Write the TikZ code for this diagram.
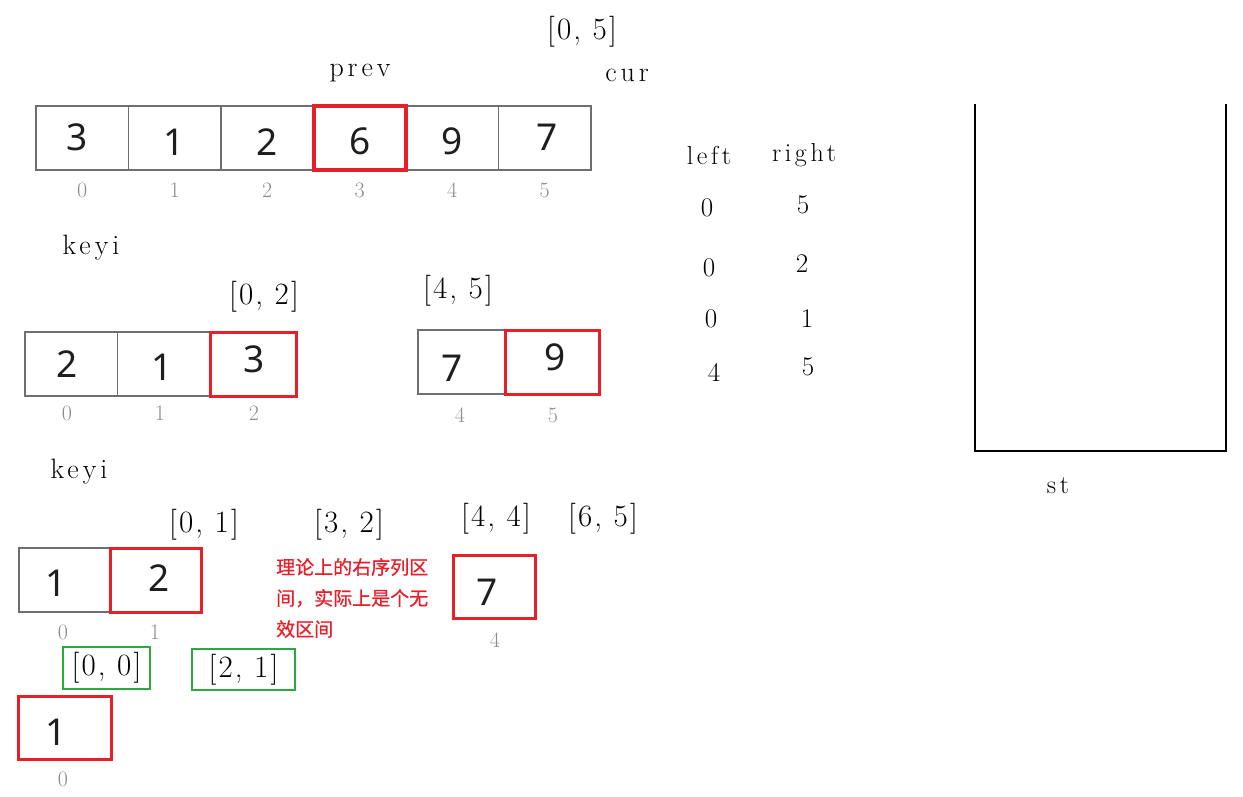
\documentclass[tikz,border=0pt]{standalone}
\usepackage{fontspec}
\newfontfamily\cjk{Noto Sans CJK SC}[FakeBold=0.8]
\newfontfamily\numf{Noto Sans}
\newfontfamily\wideroman{Latin Modern Roman}[LetterSpace=14]
\newfontfamily\widerng{Latin Modern Roman}[LetterSpace=7]
\definecolor{cellgray}{RGB}{110,110,110}
\definecolor{boxred}{RGB}{232,30,40}
\definecolor{boxgreen}{RGB}{40,170,60}
\definecolor{numcol}{RGB}{30,30,30}
\definecolor{idxgray}{RGB}{140,140,140}
\tikzset{
  cell/.style={draw=cellgray, line width=1.3pt, minimum width=92.5pt, minimum height=64pt, inner sep=0pt},
  redcell/.style={cell, draw=boxred, line width=3pt},
  dig/.style={font=\numf\fontsize{37}{37}\selectfont, text=numcol, inner sep=0pt},
  idx/.style={font=\fontsize{22}{22}\selectfont, text=idxgray, inner sep=0pt},
  rng/.style={font=\widerng\fontsize{31}{31}\selectfont, inner sep=0pt},
  ttl/.style={font=\wideroman\fontsize{28}{28}\selectfont, inner sep=0pt},
  ttlsmall/.style={font=\wideroman\fontsize{26}{26}\selectfont, inner sep=0pt},
  tnum/.style={font=\fontsize{27}{27}\selectfont, inner sep=0pt},
  greenbox/.style={draw=boxgreen, line width=2.5pt, inner sep=0pt},
  stackline/.style={line width=2.5pt, black}
}
\begin{document}
\begin{tikzpicture}[x=1pt,y=-1pt]
\useasboundingbox[fill=white] (0,0) rectangle (1243,797);
% ---------- top array ----------
\node[rng] (r05) at (582,32) {[0, 5]};
\node[ttl] (prev) at (360,73) {prev};
\node[ttl] (cur) at (627,75) {cur};
\foreach \i in {0,1,2,4,5}{
  \node[cell] (t\i) at ({36+92.5*(\i+0.5)},138) {};
}
\node[redcell, line width=4pt] (t3) at ({36+92.5*3.5},138) {};
\node[dig] (tv0) at (77,137) {3};
\node[dig] (tv1) at (174,142) {1};
\node[dig] (tv2) at (267,142) {2};
\node[dig] (tv3) at (360,141) {6};
\node[dig] (tv4) at (452,141) {9};
\node[dig] (tv5) at (547,137) {7};
\foreach \i in {0,...,5}{
  \node[idx] (ti\i) at ({36+92.5*(\i+0.5)},190) {\i};
}
\node[ttl] (keyi1) at (91,248) {keyi};
% ---------- middle left ----------
\node[rng] (r02) at (264,297) {[0, 2]};
\node[cell] (m0) at ({25+92.5*0.5},364) {};
\node[cell] (m1) at ({25+92.5*1.5},364) {};
\node[redcell, minimum width=86pt] (m2) at (253,364) {};
\node[dig] (mv0) at (67,364) {2};
\node[dig] (mv1) at (162,367) {1};
\node[dig] (mv2) at (254,359) {3};
\node[idx] (mi0) at (67,413) {0};
\node[idx] (mi1) at (160,413) {1};
\node[idx] (mi2) at (254,413) {2};
% ---------- middle right ----------
\node[rng] (r45) at (458,291) {[4, 5]};
\node[cell, minimum width=87pt] (n4) at (461.5,362) {};
\node[redcell, minimum width=94pt] (n5) at (552,362) {};
\node[dig] (nv4) at (452,368) {7};
\node[dig] (nv5) at (555,357) {9};
\node[idx] (ni4) at (460,415) {4};
\node[idx] (ni5) at (553,415) {5};
% ---------- table ----------
\node[ttlsmall] (hl) at (709,155) {left};
\node[ttlsmall] (hr) at (804,155) {right};
\node[tnum] (l1) at (707,208) {0};
\node[tnum] (rr1) at (803,205) {5};
\node[tnum] (l2) at (709,268) {0};
\node[tnum] (rr2) at (802,264) {2};
\node[tnum] (l3) at (711,319) {0};
\node[tnum] (rr3) at (807,319) {1};
\node[tnum] (l4) at (714,372) {4};
\node[tnum] (rr4) at (808,367) {5};
% ---------- stack ----------
\coordinate (stTL) at (975,104);
\coordinate (stBL) at (975,451);
\coordinate (stBR) at (1226,451);
\coordinate (stTR) at (1226,104);
\draw[stackline] (stTL) -- (stBL) -- (stBR) -- (stTR);
\node[ttlsmall] (st) at (1058,486) {st};
% ---------- bottom ----------
\node[ttl] (keyi2) at (79,472) {keyi};
\node[rng] (r01) at (204,525) {[0, 1]};
\node[rng] (r32) at (349,525) {[3, 2]};
\node[rng] (r44) at (496,519) {[4, 4]};
\node[rng] (r65) at (603,519) {[6, 5]};
\node[cell, minimum width=91pt] (b0) at (64.5,580) {};
\node[redcell, minimum width=91pt] (b1) at (155.5,580) {};
\node[dig] (bv0) at (56,583) {1};
\node[dig] (bv1) at (159,578) {2};
\node[idx] (bi0) at (63,632) {0};
\node[idx] (bi1) at (155,632) {1};
\node[text=boxred, font=\cjk\fontsize{19}{31}\selectfont, align=left, anchor=north west, inner sep=0pt] (note) at (276,558) {理论上的右序列区\\间，实际上是个无\\效区间};
\node[redcell, minimum width=82pt, minimum height=63pt] (c4) at (494,586.5) {};
\node[dig] (cv4) at (487,592) {7};
\node[idx] (ci4) at (495,640) {4};
\node[greenbox, minimum width=87pt, minimum height=42pt, rng] (g00) at (106.5,668) {[0, 0]};
\node[greenbox, minimum width=103pt, minimum height=41pt, rng] (g21) at (243.5,669.5) {[2, 1]};
\node[redcell, minimum width=93pt, minimum height=63pt] (d0) at (64.5,727.5) {};
\node[dig] (dv0) at (56,732) {1};
\node[idx] (di0) at (63,779) {0};
\end{tikzpicture}
\end{document}
